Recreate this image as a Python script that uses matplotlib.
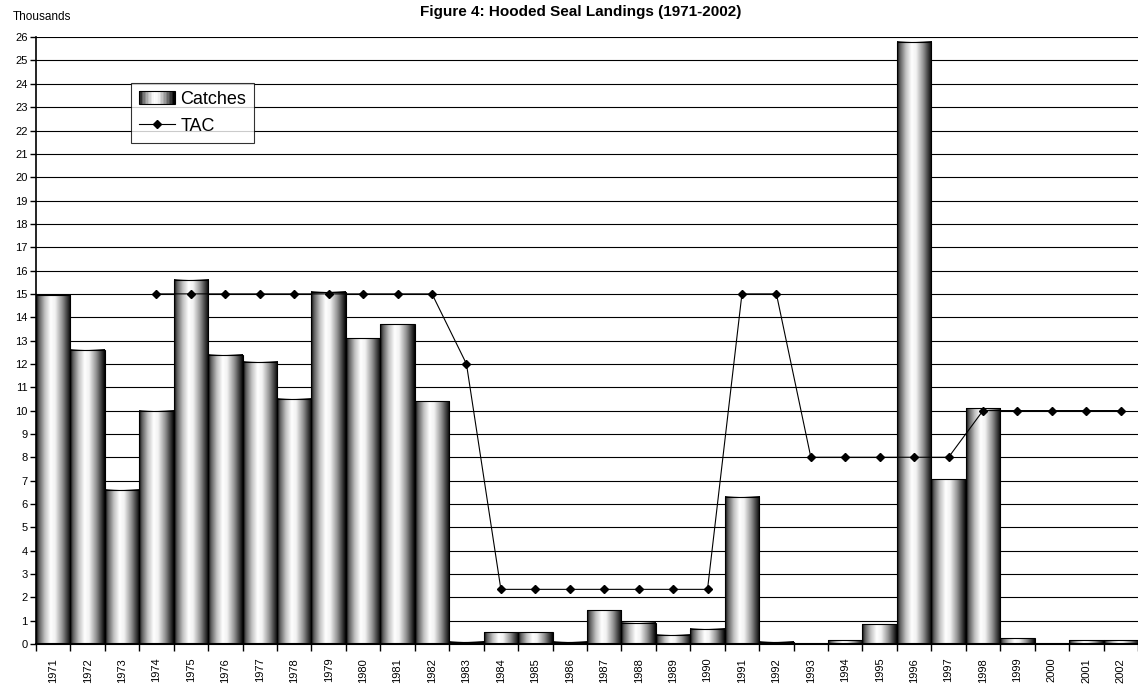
import matplotlib
matplotlib.use("Agg")
import numpy as np
import matplotlib.pyplot as plt
from matplotlib.patches import Rectangle
from matplotlib.lines import Line2D
from matplotlib.legend_handler import HandlerBase
from matplotlib.colors import LinearSegmentedColormap

plt.rcParams['font.family'] = ['Liberation Sans', 'DejaVu Sans']

years = list(range(1971, 2003))
catches = [14.95, 12.6, 6.6, 10.0, 15.6, 12.4, 12.1, 10.5, 15.1, 13.1, 13.7, 10.4,
           0.1, 0.5, 0.5, 0.1, 1.45, 0.9, 0.4, 0.65, 6.3, 0.1, 0.0, 0.15,
           0.85, 25.8, 7.05, 10.1, 0.25, 0.0, 0.15, 0.15]
tac = [None, None, None, 15, 15, 15, 15, 15, 15, 15, 15, 15,
       12, 2.34, 2.34, 2.34, 2.34, 2.34, 2.34, 2.34, 15, 15, 8, 8,
       8, 8, 8, 10, 10, 10, 10, 10]

# cylinder-like shading across each bar
shade = LinearSegmentedColormap.from_list(
    'cyl', [(0.0, '#000000'), (0.08, '#5a5a5a'), (0.25, '#c0c0c0'),
            (0.42, '#ffffff'), (0.55, '#f2f2f2'), (0.75, '#959595'),
            (0.92, '#303030'), (1.0, '#000000')])
grad = np.linspace(0, 1, 256).reshape(1, -1)


class GradientHandler(HandlerBase):
    def create_artists(self, legend, orig_handle, xdescent, ydescent,
                       width, height, fontsize, trans):
        n = 24
        arts = []
        for i in range(n):
            r = Rectangle((-xdescent + width * i / n, -ydescent), width / n + 0.3, height,
                          facecolor=shade(i / (n - 1)), edgecolor='none', transform=trans)
            arts.append(r)
        arts.append(Rectangle((-xdescent, -ydescent), width, height, facecolor='none',
                              edgecolor='black', lw=0.8, transform=trans))
        return arts


fig = plt.figure(figsize=(11.38, 6.88), dpi=100)
ax = fig.add_axes([0.0316, 0.064, 0.9684, 0.882])

x = np.arange(len(years))
bars = ax.bar(x, catches, width=1.0, color='none', edgecolor='none', zorder=2)
for p in bars.patches:
    x0, y0 = p.get_x(), p.get_y()
    w, h = p.get_width(), p.get_height()
    if h <= 0:
        continue
    ax.imshow(grad, extent=[x0, x0 + w, y0, y0 + h], aspect='auto', cmap=shade,
              vmin=0, vmax=1, interpolation='bilinear', zorder=2)
    ax.add_patch(Rectangle((x0, y0), w, h, facecolor='none', edgecolor='black',
                           lw=0.8, zorder=3))

tx = [xi for xi, t in zip(x, tac) if t is not None]
ty = [t for t in tac if t is not None]
ax.plot(tx, ty, color='black', lw=0.8, marker='D', markersize=4.5, zorder=4)

ax.set_xlim(-0.5, len(years) - 0.5)
ax.set_ylim(0, 26)
ax.set_yticks(range(0, 27))
ax.tick_params(axis='y', labelsize=8, length=4, width=1, pad=2)
ax.yaxis.grid(True, color='black', lw=0.8)
ax.set_axisbelow(True)

ax.set_xticks(x)
ax.set_xticklabels([str(y) for y in years], rotation=90, fontsize=8)
ax.set_xticks(np.arange(-0.5, len(years), 1.0), minor=True)
ax.tick_params(axis='x', which='major', length=0, pad=10)
ax.tick_params(axis='x', which='minor', length=5, width=1)

for s in ['top', 'right']:
    ax.spines[s].set_visible(False)
ax.spines['left'].set_linewidth(1.2)
ax.spines['bottom'].set_linewidth(1.5)

handles = [Rectangle((0, 0), 1, 1), Line2D([], [], color='black', lw=0.8, marker='D', markersize=4.5)]
leg = ax.legend(handles, ['Catches', 'TAC'], loc='upper left', bbox_to_anchor=(0.086, 0.925),
                fontsize=13, frameon=True, fancybox=False, borderpad=0.45, handlelength=2.0,
                handletextpad=0.3, labelspacing=0.55, borderaxespad=0,
                handler_map={Rectangle: GradientHandler()})
leg.get_frame().set_edgecolor('black')
leg.get_frame().set_linewidth(0.8)
leg.set_zorder(5)

fig.text(0.011, 0.975, 'Thousands', fontsize=8.5, ha='left', va='center')
fig.text(0.51, 0.983, 'Figure 4: Hooded Seal Landings (1971-2002)', fontsize=11,
         fontweight='bold', ha='center', va='center')

fig.savefig('out.png', dpi=100)
